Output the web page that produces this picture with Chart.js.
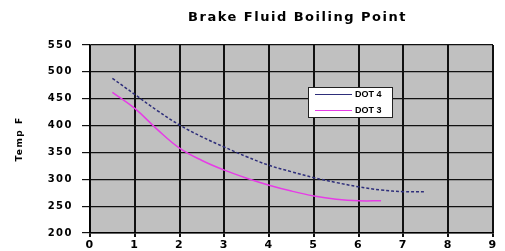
<!DOCTYPE html>
<html>
<head>
<meta charset="utf-8">
<script src="https://cdn.jsdelivr.net/npm/chart.js@4"></script>
<style>
  html, body { margin: 0; padding: 0; background: #fff; }
  #wrap { width: 505px; height: 251px; }
</style>
</head>
<body>
<div id="wrap"><canvas id="chart" width="505" height="251"></canvas></div>
<script>
// values
const dot4Temp = [0.5, 1, 1.5, 2, 2.5, 3, 3.5, 4, 4.5, 5, 5.5, 6, 6.5, 7, 7.5];
const dot4Boil = [488, 458, 428, 401, 379, 360, 342, 326, 314, 303, 294, 286, 280, 277, 277];
const dot3Temp = [0.5, 1, 1.5, 2, 2.5, 3, 3.5, 4, 4.5, 5, 5.5, 6, 6.5];
const dot3Boil = [462, 432, 393, 358, 335, 317, 302, 289, 278, 269, 263, 260, 260];
const seriesNames = ['DOT 4', 'DOT 3'];
const xTicks = [0, 1, 2, 3, 4, 5, 6, 7, 8, 9];
const yTicks = [200, 250, 300, 350, 400, 450, 500, 550];
const chartTitle = 'Brake Fluid Boiling Point';

const toPoints = (xs, ys) => xs.map((x, i) => ({ x: x, y: ys[i] }));

// gray plot background, wide-ish text like the scanned original
const plotBg = {
    id: 'plotBg',
    beforeDraw(chart) {
        const a = chart.chartArea;
        const ctx = chart.ctx;
        ctx.save();
        ctx.fillStyle = '#c0c0c0';
        ctx.fillRect(a.left, a.top, a.right - a.left, a.bottom - a.top);
        ctx.restore();
        ctx.letterSpacing = '1.5px';
    },
    afterDraw(chart) {
        chart.ctx.letterSpacing = '0px';
    }
};

// title centred over the plot, plus a small boxed legend
const boxLegend = {
    id: 'boxLegend',
    afterDraw(chart) {
        const ctx = chart.ctx;
        const a = chart.chartArea;
        ctx.save();
        ctx.letterSpacing = '1.5px';
        ctx.fillStyle = '#000';
        ctx.font = 'bold 13px "DejaVu Sans", sans-serif';
        ctx.textAlign = 'center';
        ctx.textBaseline = 'middle';
        ctx.fillText(chartTitle, (a.left + a.right) / 2 + 6, 18);
        ctx.letterSpacing = '0px';

        const x = 308, y = 87, w = 84, h = 30;
        ctx.fillStyle = '#ffffff';
        ctx.fillRect(x, y, w, h);
        ctx.strokeStyle = '#222';
        ctx.lineWidth = 1;
        ctx.strokeRect(x + 0.5, y + 0.5, w, h);
        ctx.font = 'bold 9px "Liberation Sans", Arial, sans-serif';
        ctx.textAlign = 'left';
        chart.data.datasets.forEach((ds, i) => {
            const ly = y + 7.5 + i * 16;
            ctx.strokeStyle = ds.borderColor;
            ctx.setLineDash([]);
            ctx.beginPath();
            ctx.moveTo(x + 7, ly);
            ctx.lineTo(x + 44, ly);
            ctx.stroke();
            ctx.fillStyle = '#000';
            ctx.fillText(ds.label, x + 47, ly);
        });
        ctx.restore();
    }
};

new Chart(document.getElementById('chart').getContext('2d'), {
    type: 'line',
    data: {
        datasets: [{
            label: seriesNames[0],
            data: toPoints(dot4Temp, dot4Boil),
            borderColor: '#2e2e7a',
            borderWidth: 1.5,
            borderDash: [3, 2],
            pointRadius: 0,
            fill: false,
            tension: 0.4
        }, {
            label: seriesNames[1],
            data: toPoints(dot3Temp, dot3Boil),
            borderColor: '#e63ce6',
            borderWidth: 1.5,
            pointRadius: 0,
            fill: false,
            tension: 0.4
        }]
    },
    plugins: [plotBg, boxLegend],
    options: {
        responsive: false,
        animation: false,
        layout: { padding: { left: 0, right: 12, top: 45, bottom: 0 } },
        plugins: {
            legend: { display: false },
            tooltip: { enabled: false },
            title: { display: false }
        },
        scales: {
            x: {
                type: 'linear',
                min: xTicks[0],
                max: xTicks[xTicks.length - 1],
                afterBuildTicks: axis => { axis.ticks = xTicks.map(v => ({ value: v })); },
                afterFit: axis => { axis.height = 18; },
                grid: { color: '#111', lineWidth: 2, tickLength: 4 },
                border: { color: '#000', width: 1.5 },
                ticks: {
                    color: '#000',
                    padding: 2,
                    maxRotation: 0,
                    font: { family: '"DejaVu Sans", sans-serif', size: 11, weight: 'bold' }
                }
            },
            y: {
                min: yTicks[0],
                max: yTicks[yTicks.length - 1],
                afterBuildTicks: axis => { axis.ticks = yTicks.map(v => ({ value: v })); },
                afterFit: axis => { axis.width = 90; },
                grid: { color: '#111', lineWidth: 1.2, tickLength: 8 },
                border: { color: '#000', width: 1.5 },
                title: {
                    display: true,
                    text: 'Temp F',
                    color: '#000',
                    font: { family: '"DejaVu Sans", sans-serif', size: 9, weight: 'bold' },
                    padding: { top: 14, bottom: 0 }
                },
                ticks: {
                    color: '#000',
                    padding: 9,
                    font: { family: '"DejaVu Sans", sans-serif', size: 10, weight: 'bold' }
                }
            }
        }
    }
});
</script>
</body>
</html>
